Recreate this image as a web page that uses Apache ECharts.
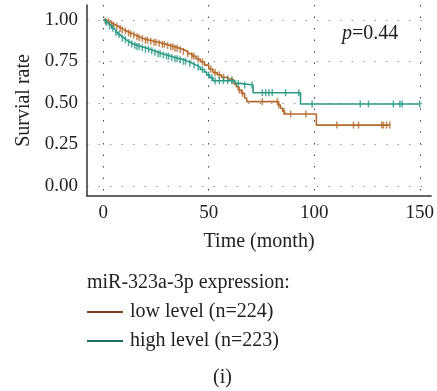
<!DOCTYPE html>
<html>
<head>
<meta charset="utf-8">
<script src="https://cdn.jsdelivr.net/npm/echarts@6/dist/echarts.min.js"></script>
<style>html,body{margin:0;padding:0;background:#fff}#c{width:437px;height:391px}</style>
</head>
<body>
<div id="c"></div>
<script>
// ---- data ----
const xTicks = [0, 50, 100, 150];
const yTicks = [0, 0.25, 0.5, 0.75, 1.0];
const yTickLabels = ['0.00', '0.25', '0.50', '0.75', '1.00'];
const seriesNames = ['low level (n=224)', 'high level (n=223)'];

const lowTime = [0,1,2,3,4,5,6,7,8,9,10,11,12,13,14,15,16,17,18,19,20,22,24,26,28,30,32,34,36,38,40,42,44,46,48,50,52,54,56,58,60,62,63,64,65.5,67,68,83,84,85,86,101,136];
const lowSurv = [1.0,0.995,0.99,0.982,0.975,0.968,0.962,0.955,0.948,0.94,0.934,0.928,0.922,0.916,0.91,0.905,0.899,0.893,0.888,0.883,0.878,0.872,0.866,0.86,0.853,0.845,0.838,0.83,0.822,0.81,0.797,0.783,0.765,0.748,0.728,0.705,0.683,0.67,0.655,0.645,0.638,0.615,0.598,0.578,0.558,0.53,0.508,0.488,0.468,0.45,0.434,0.367,0.367];
const lowCensor = [1,2.5,4,5,6.5,8,9,10.5,12,13,14.5,16,17,18.5,20,21,22.5,24,25,26.5,28,29,30.5,32,33,34,35,36.5,38,40,42,43,45,47,51,53,55,57,59,61,64.5,66,75.4,82.5,83.2,85.6,88.8,96,110.7,118.6,121,132,132.8,134.3,135.8];

const highTime = [0,1,2,3,4,5,6,7,8,9,10,11,12,13,14,16,18,20,22,24,26,28,30,32,34,36,38,40,42,44,46,48,49,50.5,52,62.5,65,71,93.5,150];
const highSurv = [1.0,0.985,0.975,0.963,0.95,0.938,0.925,0.912,0.9,0.89,0.88,0.872,0.864,0.856,0.848,0.84,0.832,0.824,0.815,0.806,0.797,0.789,0.782,0.774,0.767,0.76,0.751,0.74,0.728,0.716,0.702,0.686,0.668,0.652,0.634,0.618,0.608,0.562,0.494,0.494];
const highCensor = [1.5,3,4.5,6,7.5,9,10.5,12,13.5,15,16,17,18.5,20,21.5,23,24.5,26,27,28.5,30,31,32.5,34,35,36.5,38,39,41,43,45,47,50,51.5,53,55,57,59,61,64,67,70.5,75.4,77,78.5,80.1,86.4,92.7,99,121.8,125.7,137.5,140.6,141.7,150];

const lowColor = '#b46a2c', highColor = '#2a9a86';
const lowLegend = '#7a3f14', highLegend = '#177466';

function pairs(t, s) { return t.map((v, i) => [v, s[i]]); }
function survAt(t, times, surv) {
  let s = surv[0];
  for (let i = 0; i < times.length; i++) { if (times[i] <= t) s = surv[i]; else break; }
  return s;
}
function censorPts(c, times, surv) { return c.map(t => [t, survAt(t, times, surv)]); }

const font = '"Liberation Serif", "DejaVu Serif", serif';
const chart = echarts.init(document.getElementById('c'), null, {renderer: 'canvas'});
chart.setOption({
  animation: false,
  backgroundColor: '#fff',
  grid: {left: 87, right: 4, top: 5, bottom: 195, containLabel: false},
  xAxis: {
    type: 'value', min: -7.7, max: 155.4,
    name: 'Time (month)', nameLocation: 'middle', nameGap: 36,
    nameTextStyle: {fontFamily: font, fontSize: 20, color: '#222'},
    axisLine: {show: true, onZero: false, lineStyle: {color: '#333', width: 1.5}},
    axisTick: {show: false, customValues: xTicks},
    axisLabel: {customValues: xTicks, fontFamily: font, fontSize: 19, color: '#222', margin: 8},
    splitLine: {show: true, lineStyle: {color: '#444', width: 1, type: [1.5, 10]}}
  },
  yAxis: {
    type: 'value', min: -0.06, max: 1.09,
    name: 'Survial rate', nameLocation: 'middle', nameGap: 53,
    nameTextStyle: {fontFamily: font, fontSize: 20, color: '#222'},
    axisLine: {show: true, onZero: false, lineStyle: {color: '#333', width: 1.5}},
    axisTick: {show: false, customValues: yTicks},
    axisLabel: {customValues: yTicks, fontFamily: font, fontSize: 19, color: '#222', margin: 9,
      formatter: v => yTickLabels[yTicks.indexOf(Math.round(v * 100) / 100)] ?? ''},
    splitLine: {show: true, lineStyle: {color: '#999', width: 1, type: [1.5, 10]}}
  },
  legend: {
    orient: 'vertical', left: 87, top: 302, padding: 0, itemWidth: 36, itemHeight: 2, itemGap: 9,
    icon: 'rect',
    textStyle: {fontFamily: font, fontSize: 20, color: '#222', padding: [0, 0, 0, 2]},
    data: [
      {name: seriesNames[0], itemStyle: {color: lowLegend}},
      {name: seriesNames[1], itemStyle: {color: highLegend}}
    ]
  },
  graphic: [
    {type: 'text', left: 87, top: 273, style: {text: 'miR-323a-3p expression:', font: '20px ' + font, fill: '#222'}},
    {type: 'text', left: 213, top: 368, style: {text: '(i)', font: '20px ' + font, fill: '#222'}},
    {type: 'text', left: 342, top: 24, style: {rich: {i: {fontStyle: 'italic', fontFamily: font, fontSize: 20, fill: '#222'}, n: {fontFamily: font, fontSize: 20, fill: '#222'}}, text: '{i|p}{n|=0.44}'}}
  ],
  series: [
    {name: seriesNames[0], type: 'line', step: 'end', showSymbol: false, symbol: 'none',
     lineStyle: {color: lowColor, width: 1.6}, itemStyle: {color: lowColor}, data: pairs(lowTime, lowSurv), z: 3},
    {name: seriesNames[1], type: 'line', step: 'end', showSymbol: false, symbol: 'none',
     lineStyle: {color: highColor, width: 1.6}, itemStyle: {color: highColor}, data: pairs(highTime, highSurv), z: 4},
    {name: 'lowC', type: 'scatter', symbol: 'rect', symbolSize: [1.5, 7],
     itemStyle: {color: lowColor}, data: censorPts(lowCensor, lowTime, lowSurv), z: 3},
    {name: 'highC', type: 'scatter', symbol: 'rect', symbolSize: [1.5, 7],
     itemStyle: {color: highColor}, data: censorPts(highCensor, highTime, highSurv), z: 4}
  ]
});
</script>
</body>
</html>
